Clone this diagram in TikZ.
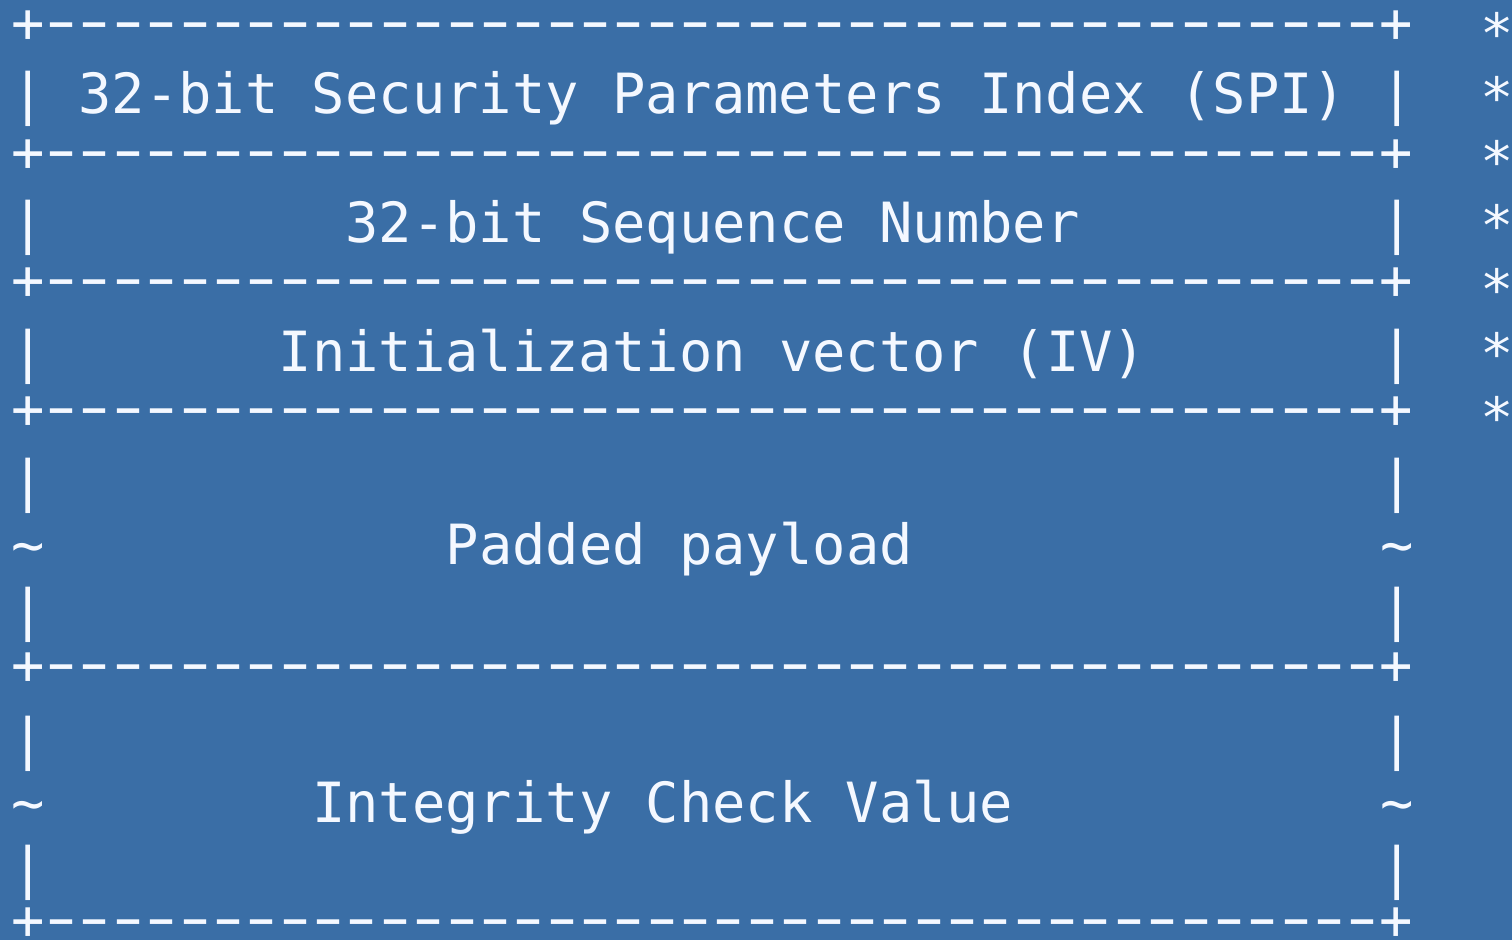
\documentclass[tikz,border=0pt]{standalone}
\usepackage{fontspec}
\usepackage{graphicx}
\setmonofont{DejaVu Sans Mono}
\definecolor{bg}{HTML}{3A6EA6}
\definecolor{fg}{HTML}{F4F8FF}
\newcommand\asciifont{\ttfamily\fontsize{27.71}{32}\selectfont}
\newcommand\dsh{\makebox[0.60205em]{\scalebox{0.78}[1]{−}}}
\newcommand\tendsh{\dsh\dsh\dsh\dsh\dsh\dsh\dsh\dsh\dsh\dsh}
\newcommand\dashrow{+\tendsh\tendsh\tendsh\tendsh+}
\tikzset{
  ascii/.style={anchor=base west, inner sep=0pt, outer sep=0pt, text=fg, font=\asciifont},
}
\begin{document}
\begin{tikzpicture}[x=0.5pt,y=-0.5pt]
\fill[bg] (0,0) rectangle (1512,940);
\useasboundingbox (0,0) rectangle (1512,940);
% horizontal border rows
\foreach \r in {0,2,4,6,10}
  \node[ascii] (plus\r) at (11.6,{43+64.2*\r}) {\dashrow};
\node[ascii] (plus14) at (11.6,939.5) {\dashrow};
% vertical border rows
\foreach \r in {1,3,5,7,9,11,13} {
  \node[ascii] (barL\r) at (11.6,{49+64.5*\r}) {|};
  \node[ascii] (barR\r) at ({11.6+33.39*41},{49+64.5*\r}) {|};
}
% tilde rows
\foreach \r in {8,12} {
  \node[ascii] (tilL\r) at (11.6,{49+64.5*\r}) {\textasciitilde};
  \node[ascii] (tilR\r) at ({11.6+33.39*41},{49+64.5*\r}) {\textasciitilde};
}
% labels
\node[ascii] (spi) at ({11.6+33.39*2},{49+64.5*1}) {32-bit Security Parameters Index (SPI)};
\node[ascii] (seq) at ({11.6+33.39*10},{49+64.5*3}) {32-bit Sequence Number};
\node[ascii] (iv) at ({11.6+33.39*8},{49+64.5*5}) {Initialization vector (IV)};
\node[ascii] (payload) at ({11.6+33.39*13},{49+64.5*8}) {Padded payload};
\node[ascii] (icv) at ({11.6+33.39*9},{49+64.5*12}) {Integrity Check Value};
% asterisks
\foreach \r in {0,...,6}
  \node[ascii] (star\r) at ({11.6+33.39*44},{54+64.0*\r}) {*};
\end{tikzpicture}
\end{document}
